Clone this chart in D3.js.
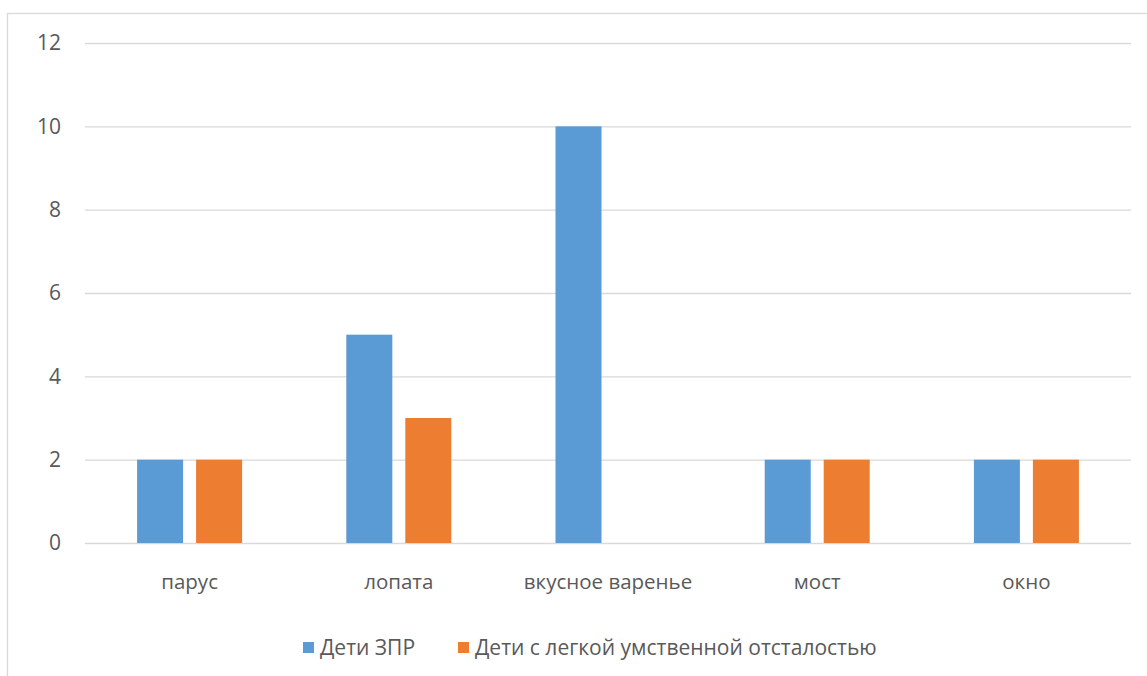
<!DOCTYPE html>
<html><head><meta charset="utf-8">
<script src="https://cdn.jsdelivr.net/npm/d3@7"></script>
<style>body{margin:0;background:#fff}text{font-family:"Open Sans",sans-serif;fill:#595959}</style>
</head><body>
<svg id="c" width="1147" height="676"></svg>
<script>
const categories = ["парус","лопата","вкусное варенье","мост","окно"];
const seriesNames = ["Дети ЗПР","Дети с легкой умственной отсталостью"];
const zprValues = [2,5,10,2,2];
const umoValues = [2,3,0,2,2];
const yTicks = [0,2,4,6,8,10,12];
const colors = ["#5B9BD5","#ED7D31"];

const svg = d3.select("#c");
const L = 85, R = 1131, T = 43, B = 543;
svg.append("rect").attr("x",7.5).attr("y",13.5).attr("width",1160).attr("height",700)
  .attr("fill","none").attr("stroke","#D9D9D9").attr("stroke-width",1.3);

const x0 = d3.scaleBand().domain(categories).range([L,R]).paddingInner(0.498).paddingOuter(0.249);
const x1 = d3.scaleBand().domain([0,1]).range([0,x0.bandwidth()]).paddingInner(0.22);
const y = d3.scaleLinear().domain([0,12]).range([B,T]);

const gy = svg.append("g").attr("transform",`translate(${L},0)`)
  .call(d3.axisLeft(y).tickValues(yTicks).tickSize(-(R-L)).tickPadding(24).tickFormat(d3.format("d")));
gy.select(".domain").remove();
gy.selectAll(".tick line").attr("stroke","#D9D9D9").attr("stroke-width",1.3);
gy.selectAll(".tick text").attr("font-size",21).style("font-family","Open Sans").attr("fill","#595959");

const series = [zprValues, umoValues];
const g = svg.append("g");
categories.forEach((c,i)=>{
  series.forEach((vals,s)=>{
    if(vals[i]>0) g.append("rect").attr("x",x0(c)+x1(s)).attr("width",x1.bandwidth())
      .attr("y",y(vals[i])).attr("height",y(0)-y(vals[i])).attr("fill",colors[s]);
  });
});

const gx = svg.append("g").attr("transform",`translate(0,${B})`)
  .call(d3.axisBottom(x0).tickSize(0).tickPadding(31));
gx.select(".domain").remove();
gx.selectAll(".tick text").attr("font-size",20.5).style("font-family","Open Sans").attr("fill","#595959");

const legendX = [303, 458];
seriesNames.forEach((n,s)=>{
  svg.append("rect").attr("x",legendX[s]).attr("y",642).attr("width",11).attr("height",11).attr("fill",colors[s]);
  svg.append("text").attr("x",legendX[s]+17).attr("y",647.5).attr("dy","0.35em").attr("font-size",21).text(n);
});
</script>
</body></html>
